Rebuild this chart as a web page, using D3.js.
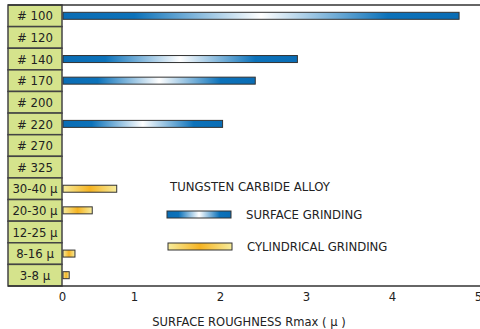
<!DOCTYPE html>
<html>
<head>
<meta charset="utf-8">
<style>
body { margin: 0; background: #fff; }
text { font-family: "DejaVu Sans Condensed", "DejaVu Sans", sans-serif; fill: #222; }
</style>
</head>
<body>
<script src="https://cdn.jsdelivr.net/npm/d3@7"></script>
<script>
// grit / grade categories, top to bottom
var categories = ["# 100", "# 120", "# 140", "# 170", "# 200", "# 220", "# 270", "# 325",
                  "30-40 \u03bc", "20-30 \u03bc", "12-25 \u03bc", "8-16 \u03bc", "3-8 \u03bc"];
// Rmax values (null = no bar)
var surfaceValues = [4.78, null, 2.9, 2.41, null, 2.03, null, null, null, null, null, null, null];
var cylindricalValues = [null, null, null, null, null, null, null, null, 0.76, 0.42, null, 0.18, 0.1];
var xTicks = [0, 1, 2, 3, 4, 5];

var width = 480, height = 329;
var left = 62, marginTop = 5, bottom = 286, boxLeft = 8;

var svg = d3.select("body").append("svg")
    .attr("width", width)
    .attr("height", height);

var defs = svg.append("defs");
var gBlue = defs.append("linearGradient").attr("id", "gBlue");
[[0, "#0a6db5"], [0.18, "#0c72ba"], [0.5, "#ffffff"], [0.82, "#0c72ba"], [1, "#0a6db5"]].forEach(function(s) {
  gBlue.append("stop").attr("offset", s[0]).attr("stop-color", s[1]);
});
var gYellow = defs.append("linearGradient").attr("id", "gYellow");
[[0, "#f7ec9c"], [0.5, "#f5b322"], [1, "#f7ec9c"]].forEach(function(s) {
  gYellow.append("stop").attr("offset", s[0]).attr("stop-color", s[1]);
});

// the original axis is stretched between 0 and 1
var x = d3.scaleLinear().domain([0, 1, 5]).range([left, 134, 478]);
var y = d3.scaleBand().domain(categories).range([marginTop, bottom]);

// label column
svg.append("g").selectAll("rect")
    .data(categories)
    .enter().append("rect")
    .attr("x", boxLeft)
    .attr("y", function(d) { return y(d); })
    .attr("width", left - boxLeft)
    .attr("height", y.bandwidth())
    .style("fill", "#d5e38c")
    .style("stroke", "#444")
    .style("stroke-width", 1.5);

svg.append("g").selectAll("text")
    .data(categories)
    .enter().append("text")
    .attr("x", (boxLeft + left) / 2)
    .attr("y", function(d) { return y(d) + y.bandwidth() / 2; })
    .attr("dy", "0.36em")
    .attr("text-anchor", "middle")
    .style("font-size", "13px")
    .text(function(d) { return d; });

// frame lines
svg.append("line").attr("x1", boxLeft).attr("x2", width).attr("y1", marginTop).attr("y2", marginTop)
    .style("stroke", "#333").style("stroke-width", 1.5);
svg.append("line").attr("x1", boxLeft).attr("x2", width).attr("y1", bottom).attr("y2", bottom)
    .style("stroke", "#333").style("stroke-width", 1.5);

var barH = 7;
function drawBars(values, fill) {
  svg.append("g").selectAll("rect")
      .data(categories.map(function(c, i) { return {cat: c, v: values[i]}; })
                      .filter(function(d) { return d.v != null; }))
      .enter().append("rect")
      .attr("x", x(0) + 1)
      .attr("y", function(d) { return y(d.cat) + y.bandwidth() / 2 - barH / 2; })
      .attr("width", function(d) { return x(d.v) - x(0) - 1; })
      .attr("height", barH)
      .style("fill", fill)
      .style("stroke", "#333")
      .style("stroke-width", 1);
}
drawBars(surfaceValues, "url(#gBlue)");
drawBars(cylindricalValues, "url(#gYellow)");

// x axis
var axis = svg.append("g")
    .attr("transform", "translate(0," + bottom + ")")
    .call(d3.axisBottom(x).tickValues(xTicks).tickSize(0).tickPadding(6).tickFormat(d3.format("d")));
axis.select(".domain").remove();
axis.selectAll("text").style("font-size", "13px").style("font-family", "DejaVu Sans Condensed, sans-serif").style("fill", "#222");

svg.append("text")
    .attr("x", 249)
    .attr("y", 326)
    .attr("text-anchor", "middle")
    .style("font-size", "12.8px")
    .text("SURFACE ROUGHNESS Rmax ( \u03bc )");

// legend
svg.append("text").attr("x", 170).attr("y", 191).style("font-size", "13px").text("TUNGSTEN CARBIDE ALLOY");
svg.append("rect").attr("x", 167).attr("y", 211).attr("width", 64).attr("height", 7)
    .style("fill", "url(#gBlue)").style("stroke", "#333");
svg.append("text").attr("x", 246).attr("y", 219).style("font-size", "13px").text("SURFACE GRINDING");
svg.append("rect").attr("x", 168).attr("y", 243).attr("width", 64).attr("height", 7)
    .style("fill", "url(#gYellow)").style("stroke", "#333");
svg.append("text").attr("x", 247).attr("y", 251).style("font-size", "13px").text("CYLINDRICAL GRINDING");
</script>
</body>
</html>
